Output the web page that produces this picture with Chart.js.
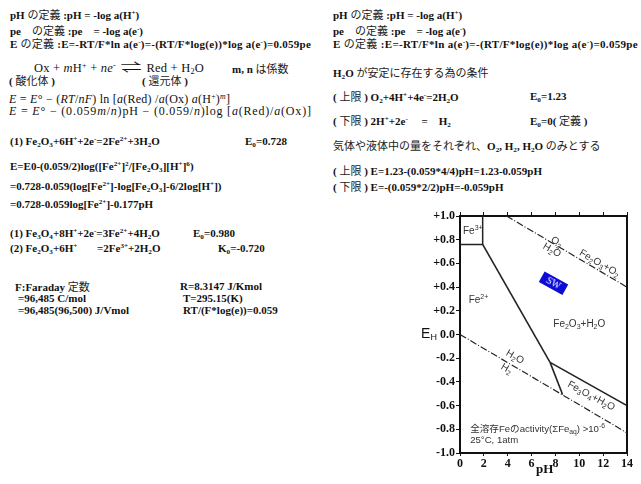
<!DOCTYPE html>
<html>
<head>
<meta charset="utf-8">
<script src="https://cdn.jsdelivr.net/npm/chart.js@4"></script>
<style>
  body { margin: 0; background: #fff; width: 641px; height: 484px; overflow: hidden; position: relative; }
  .t { position: absolute; white-space: nowrap; font: bold 11px "Liberation Serif", "Noto Sans CJK JP"; line-height: 14px; color: #111; }
  .r { font-weight: normal; font-size: 12px; }
  .j { font-family: "Noto Sans CJK JP"; font-weight: normal; color: #222; }
  .t sub, .t sup { font-size: 65%; line-height: 0; }
  .t sub { vertical-align: -2px; }
  .t sup { vertical-align: 4px; }
  .flecha { display: inline-block; transform: scaleX(1.7); margin: 0 9px; }
  #box { position: absolute; left: 400px; top: 200px; width: 241px; height: 284px; }
</style>
</head>
<body>
<!-- 左側のテキスト -->
<div class="t" style="left:10px;top:7px">pH <span class="j">の定義</span> :pH = -log a(H<sup>+</sup>)</div>
<div class="t" style="left:10px;top:23px">pe　<span class="j">の定義</span> :pe　= -log a(e<sup>-</sup>)</div>
<div class="t" data-w="301" style="left:10px;top:36px">E <span class="j">の定義</span> :E=-RT/F*ln a(e<sup>-</sup>)=-(RT/F*log(e))*log a(e<sup>-</sup>)=0.059pe</div>
<div class="t r" data-w="170" style="left:34px;top:61px;font-size:12.5px">Ox + <i>m</i>H<sup>+</sup> + <i>ne</i><sup>-</sup><span class="flecha">⇌</span>Red + H<sub>2</sub>O</div>
<div class="t" style="left:232px;top:61px">m, n <span class="j">は係数</span></div>
<div class="t" style="left:9px;top:73px">( <span class="j">酸化体</span> )</div>
<div class="t" style="left:142px;top:73px">( <span class="j">還元体</span> )</div>
<div class="t r" data-w="221" style="left:9px;top:92px"><i>E</i> = <i>E</i>° − (<i>RT</i>/<i>nF</i>) ln [<i>a</i>(Red) /<i>a</i>(Ox) <i>a</i>(H<sup>+</sup>)<sup><i>m</i></sup>]</div>
<div class="t r" data-w="303" style="left:9px;top:104px"><i>E</i> = <i>E</i>° − (0.059<i>m</i>/<i>n</i>)pH − (0.059/<i>n</i>)log [<i>a</i>(Red)/<i>a</i>(Ox)]</div>
<div class="t" style="left:10px;top:134px">(1) Fe<sub>2</sub>O<sub>3</sub>+6H<sup>+</sup>+2e<sup>-</sup>=2Fe<sup>2+</sup>+3H<sub>2</sub>O</div>
<div class="t" style="left:245px;top:134px">E<sub>0</sub>=0.728</div>
<div class="t" style="left:10px;top:159px">E=E0-(0.059/2)log([Fe<sup>2+</sup>]<sup>2</sup>/[Fe<sub>2</sub>O<sub>3</sub>][H<sup>+</sup>]<sup>6</sup>)</div>
<div class="t" style="left:10px;top:179px">=0.728-0.059(log[Fe<sup>2+</sup>]-log[Fe<sub>2</sub>O<sub>3</sub>]-6/2log[H<sup>+</sup>])</div>
<div class="t" style="left:10px;top:197px">=0.728-0.059log[Fe<sup>2+</sup>]-0.177pH</div>
<div class="t" style="left:10px;top:226px">(1) Fe<sub>3</sub>O<sub>4</sub>+8H<sup>+</sup>+2e<sup>-</sup>=3Fe<sup>2+</sup>+4H<sub>2</sub>O</div>
<div class="t" style="left:193px;top:226px">E<sub>0</sub>=0.980</div>
<div class="t" style="left:10px;top:241px">(2) Fe<sub>2</sub>O<sub>3</sub>+6H<sup>+</sup></div>
<div class="t" style="left:97px;top:241px">=2Fe<sup>3+</sup>+2H<sub>2</sub>O</div>
<div class="t" style="left:218px;top:241px">K<sub>0</sub>=-0.720</div>
<div class="t" style="left:15px;top:279px">F:Faraday <span class="j">定数</span></div>
<div class="t" style="left:18px;top:291px">=96,485 C/mol</div>
<div class="t" style="left:18px;top:303px">=96,485(96,500) J/Vmol</div>
<div class="t" style="left:180px;top:279px">R=8.3147 J/Kmol</div>
<div class="t" style="left:183px;top:291px">T=295.15(K)</div>
<div class="t" style="left:183px;top:303px">RT/(F*log(e))=0.059</div>
<!-- 右側のテキスト -->
<div class="t" style="left:333px;top:7px">pH <span class="j">の定義</span> :pH = -log a(H<sup>+</sup>)</div>
<div class="t" style="left:333px;top:23px">pe　<span class="j">の定義</span> :pe　= -log a(e<sup>-</sup>)</div>
<div class="t" data-w="305" style="left:333px;top:36px">E <span class="j">の定義</span> :E=-RT/F*ln a(e<sup>-</sup>)=-(RT/F*log(e))*log a(e<sup>-</sup>)=0.059pe</div>
<div class="t" style="left:333px;top:65px">H<sub>2</sub>O <span class="j">が安定に存在する為の条件</span></div>
<div class="t" style="left:333px;top:89px">( <span class="j">上限</span> ) O<sub>2</sub>+4H<sup>+</sup>+4e<sup>-</sup>=2H<sub>2</sub>O</div>
<div class="t" style="left:530px;top:89px">E<sub>0</sub>=1.23</div>
<div class="t" style="left:333px;top:113px">( <span class="j">下限</span> ) 2H<sup>+</sup>+2e<sup>-</sup>　 =　H<sub>2</sub></div>
<div class="t" style="left:530px;top:113px">E<sub>0</sub>=0( <span class="j">定義</span> )</div>
<div class="t" style="left:333px;top:138px"><span class="j">気体や液体中の量をそれぞれ、</span>O<sub>2</sub>, H<sub>2</sub>, H<sub>2</sub>O <span class="j">のみとする</span></div>
<div class="t" style="left:333px;top:163px">( <span class="j">上限</span> ) E=1.23-(0.059*4/4)pH=1.23-0.059pH</div>
<div class="t" style="left:333px;top:179px">( <span class="j">下限</span> ) E=-(0.059*2/2)pH=-0.059pH</div>

<div id="box"><canvas id="Grafico" width="241" height="284"></canvas></div>

<script>
//行の幅を合わせる
document.querySelectorAll('[data-w]').forEach(el => {
  const objetivo = parseFloat(el.dataset.w);
  const ancho = el.getBoundingClientRect().width;
  const n = el.textContent.length;
  el.style.letterSpacing = ((objetivo - ancho) / n).toFixed(2) + 'px';
});

//境界線のデータ (pH, E)
const phO2 = [3.9, 14];
const eO2 = [1.0, 0.40];
const phH2 = [0, 14];
const eH2 = [0, -0.83];
const phFe3 = [0, 1.9, 1.9];
const eFe3 = [0.76, 0.76, 1.0];
const phFe2Hem = [1.9, 7.55];
const eFe2Hem = [0.76, -0.235];
const phFe2Mag = [7.55, 8.6];
const eFe2Mag = [-0.235, -0.507];
const phHemMag = [7.55, 14];
const eHemMag = [-0.235, -0.60];
//海水(SW)の位置
const phSW = [7.84];
const eSW = [0.433];
//軸の目盛
const phTicks = [0, 2, 4, 6, 8, 10, 12, 14];
const eTicks = [1.0, 0.8, 0.6, 0.4, 0.2, 0.0, -0.2, -0.4, -0.6, -0.8, -1.0];

function pares(xs, ys) {
  return xs.map((x, i) => ({ x: x, y: ys[i] }));
}

//SWの青い四角
const sw = document.createElement('canvas');
sw.width = 27; sw.height = 12;
const sc = sw.getContext('2d');
sc.fillStyle = '#0c0cd4';
sc.fillRect(0, 0, 27, 12);
sc.fillStyle = '#fff';
sc.font = '10px "Liberation Serif"';
sc.textAlign = 'center';
sc.textBaseline = 'middle';
sc.fillText('SW', 13.5, 6.5);

//図中の文字 [テキスト, モード]
const etiquetas = [
  { t: [['Fe'], ['3+', 'sup']], ph: 0.25, e: 0.87, rot: 0, align: 'left' },
  { t: [['Fe'], ['2+', 'sup']], ph: 1.55, e: 0.29, rot: 0, align: 'center' },
  { t: [['Fe'], ['2', 'sub'], ['O'], ['3', 'sub'], ['+H'], ['2', 'sub'], ['O']], ph: 10.0, e: 0.09, rot: 0, align: 'center' },
  { t: [['O'], ['2', 'sub']], ph: 8.1, e: 0.78, rot: 30, align: 'center' },
  { t: [['H'], ['2', 'sub'], ['O']], ph: 7.7, e: 0.71, rot: 30, align: 'center' },
  { t: [['Fe'], ['2', 'sub'], ['O'], ['3', 'sub'], ['+O'], ['2', 'sub']], ph: 11.7, e: 0.60, rot: 30, align: 'center' },
  { t: [['H'], ['2', 'sub'], ['O']], ph: 4.6, e: -0.19, rot: 30, align: 'center' },
  { t: [['H'], ['2', 'sub']], ph: 3.9, e: -0.29, rot: 30, align: 'center' },
  { t: [['Fe'], ['3', 'sub'], ['O'], ['4', 'sub'], ['+H'], ['2', 'sub'], ['O']], ph: 11.0, e: -0.52, rot: 28, align: 'center' },
  { t: [['全溶存Feのactivity(ΣFe'], ['aq', 'sub'], [') >10'], ['-6', 'sup']], ph: 0.85, e: -0.80, rot: 0, align: 'left', size: 9.6 },
  { t: [['25°C, 1atm']], ph: 0.85, e: -0.89, rot: 0, align: 'left', size: 9.6 }
];

function textoRico(ctx, partes, x, y, size, align) {
  const f = (m) => (m ? size * 0.7 : size) + 'px "Liberation Sans", "Noto Sans CJK JP"';
  let ancho = 0;
  partes.forEach(p => { ctx.font = f(p[1]); ancho += ctx.measureText(p[0]).width; });
  let cx = align === 'center' ? x - ancho / 2 : x;
  ctx.textAlign = 'left';
  ctx.textBaseline = 'middle';
  partes.forEach(p => {
    ctx.font = f(p[1]);
    const dy = p[1] === 'sub' ? size * 0.3 : p[1] === 'sup' ? -size * 0.35 : 0;
    ctx.fillText(p[0], cx, y + dy);
    cx += ctx.measureText(p[0]).width;
  });
}

const rotulos = {
  id: 'rotulos',
  afterDatasetsDraw(chart) {
    const ctx = chart.ctx;
    const xs = chart.scales.x, ys = chart.scales.y;
    ctx.save();
    ctx.fillStyle = '#333';
    etiquetas.forEach(l => {
      ctx.save();
      ctx.translate(xs.getPixelForValue(l.ph), ys.getPixelForValue(l.e));
      ctx.rotate(l.rot * Math.PI / 180);
      textoRico(ctx, l.t, 0, 0, l.size || 10, l.align);
      ctx.restore();
    });
    //E_H
    ctx.fillStyle = '#111';
    const y0 = ys.getPixelForValue(0);
    ctx.font = '14px "Liberation Sans"';
    ctx.textBaseline = 'middle';
    ctx.textAlign = 'left';
    ctx.fillText('E', 21, y0);
    ctx.font = '9px "Liberation Sans"';
    ctx.fillText('H', 30.5, y0 + 3);
    //pH
    ctx.font = 'bold 13px "Liberation Serif"';
    ctx.textAlign = 'center';
    ctx.fillText('pH', xs.getPixelForValue(7.1), xs.bottom - 14);
    ctx.restore();
  }
};

const negro = '#111';
const linea = (xs, ys, dash, w) => ({
  data: pares(xs, ys), showLine: true, pointRadius: 0,
  borderColor: '#222', borderWidth: w, borderDash: dash, fill: false
});

const contexto = document.getElementById('Grafico').getContext('2d');
const Grafico = new Chart(contexto, {
  type: 'scatter',
  data: {
    datasets: [
      linea(phO2, eO2, [7, 2, 1, 2], 1.2),
      linea(phH2, eH2, [7, 2, 1, 2], 1.2),
      linea(phFe3, eFe3, [], 1.5),
      linea(phFe2Hem, eFe2Hem, [], 1.6),
      linea(phFe2Mag, eFe2Mag, [], 1.6),
      linea(phHemMag, eHemMag, [], 1.6),
      { data: pares(phSW, eSW), pointStyle: sw, rotation: 29, pointRadius: 10 }
    ]
  },
  plugins: [rotulos],
  options: {
    responsive: false,
    animation: false,
    layout: { padding: { left: 0, right: 14, top: 0, bottom: 0 } },
    plugins: { legend: { display: false }, tooltip: { enabled: false } },
    scales: {
      x: {
        type: 'linear', position: 'bottom', min: 0, max: 14,
        afterBuildTicks: s => { s.ticks = phTicks.map(v => ({ value: v })); },
        afterFit: s => { s.height = 31; },
        ticks: { color: negro, padding: 1, font: { family: 'Liberation Serif', weight: 'bold', size: 12 } },
        grid: { drawOnChartArea: false, tickLength: 3, color: negro },
        border: { color: negro, width: 2 }
      },
      xTop: {
        type: 'linear', position: 'top', min: 0, max: 14,
        afterBuildTicks: s => { s.ticks = phTicks.map(v => ({ value: v })); },
        afterFit: s => { s.height = 16; },
        ticks: { callback: () => '' },
        grid: { drawOnChartArea: false, tickLength: 4, color: negro },
        border: { color: negro, width: 2 }
      },
      y: {
        type: 'linear', position: 'left', min: -1, max: 1,
        afterBuildTicks: s => { s.ticks = eTicks.map(v => ({ value: v })); },
        afterFit: s => { s.width = 60; },
        ticks: {
          color: negro, padding: 1,
          font: { family: 'Liberation Serif', weight: 'bold', size: 12 },
          callback: v => (v > 0.001 ? '+' : '') + (Math.abs(v) < 0.001 ? '0.0' : v.toFixed(1))
        },
        grid: { drawOnChartArea: false, tickLength: 4, color: negro },
        border: { color: negro, width: 2 }
      },
      yRight: {
        type: 'linear', position: 'right', min: -1, max: 1,
        afterFit: s => { s.width = 0; },
        ticks: { display: false },
        grid: { display: false },
        border: { color: negro, width: 2 }
      }
    }
  }
});
</script>
</body>
</html>
